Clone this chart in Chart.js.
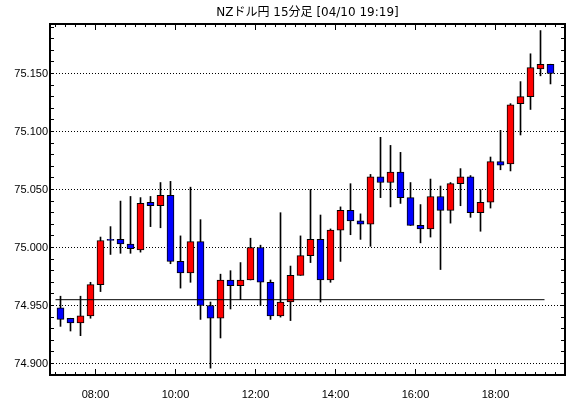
<!DOCTYPE html>
<html><head><meta charset="utf-8">
<script src="https://cdn.jsdelivr.net/npm/chart.js@4"></script>
<style>html,body{margin:0;padding:0;background:#fff}canvas{display:block}</style>
</head><body><canvas id="c" width="570" height="398"></canvas>
<script>
const chartTitle = 'NZドル円 15分足 [04/10 19:19]';
const times = ['07:00','07:15','07:30','07:45','08:00','08:15','08:30','08:45','09:00','09:15',
  '09:30','09:45','10:00','10:15','10:30','10:45','11:00','11:15','11:30','11:45',
  '12:00','12:15','12:30','12:45','13:00','13:15','13:30','13:45','14:00','14:15',
  '14:30','14:45','15:00','15:15','15:30','15:45','16:00','16:15','16:30','16:45',
  '17:00','17:15','17:30','17:45','18:00','18:15','18:30','18:45','19:00','19:15'];
const opens  = [74.948,74.939,74.935,74.941,74.968,75.007,75.007,75.003,74.998,75.039,
  75.036,75.045,74.988,74.978,75.005,74.950,74.939,74.972,74.967,74.972,
  75.000,74.970,74.941,74.953,74.976,74.993,75.007,74.972,75.015,75.032,
  75.023,75.020,75.061,75.056,75.065,75.043,75.019,75.016,75.044,75.032,
  75.055,75.061,75.030,75.039,75.074,75.072,75.124,75.130,75.154,75.158];
const highs  = [74.958,74.939,74.958,74.970,75.009,75.018,75.040,75.044,75.043,75.044,
  75.056,75.057,75.010,75.052,75.024,74.953,74.977,74.980,74.987,75.008,
  75.002,74.972,75.030,74.984,75.010,75.050,75.028,75.016,75.035,75.055,
  75.029,75.063,75.095,75.088,75.082,75.056,75.037,75.059,75.053,75.056,
  75.068,75.062,75.050,75.078,75.101,75.124,75.143,75.167,75.187,75.158];
const lows   = [74.932,74.928,74.924,74.939,74.962,74.994,74.995,74.995,74.996,75.018,
  75.017,74.986,74.965,74.970,74.938,74.896,74.922,74.947,74.955,74.972,
  74.950,74.938,74.940,74.937,74.976,74.987,74.953,74.970,74.988,75.011,
  75.007,75.001,75.043,75.035,75.038,75.019,75.004,75.009,74.981,75.021,
  75.036,75.026,75.014,75.034,75.067,75.066,75.097,75.119,75.148,75.141];
const closes = [74.938,74.935,74.941,74.968,75.006,75.006,75.003,74.999,75.038,75.036,
  75.045,74.988,74.978,75.005,74.950,74.939,74.972,74.967,74.972,75.000,
  74.970,74.941,74.953,74.976,74.993,75.007,74.972,75.015,75.032,75.023,
  75.020,75.061,75.056,75.065,75.043,75.019,75.016,75.044,75.032,75.055,
  75.061,75.030,75.039,75.074,75.071,75.123,75.130,75.155,75.158,75.150];
const refLevel = 74.955;
const refLineSpan = [-0.5, 48.4];
const xTickLabels = ['08:00','10:00','12:00','14:00','16:00','18:00'];
const yTickValues = [74.900, 74.950, 75.000, 75.050, 75.100, 75.150];
const yMinorStep = 0.01;

const UP = '#ff0000', DOWN = '#0000ff';
const wickData = times.map((t,i)=>({x:i, y:[lows[i], highs[i]]}));
const bodyData = times.map((t,i)=>({x:i, y:[opens[i], closes[i]]}));
const bodyColors = times.map((t,i)=> closes[i] >= opens[i] ? UP : DOWN);

const frameTicks = {
  id:'frameTicks',
  afterDraw(chart){
    const {ctx, chartArea:a, scales:{x, y}} = chart;
    ctx.save();
    ctx.strokeStyle = '#000';
    ctx.lineWidth = 1;
    ctx.beginPath();
    for (let i = 0; i <= times.length; i++) {
      const px = x.getPixelForValue(i - 0.5);
      const major = i < times.length && xTickLabels.includes(times[i]);
      const len = major ? 6 : 3;
      ctx.moveTo(px, a.bottom); ctx.lineTo(px, a.bottom - len);
      ctx.moveTo(px, a.top); ctx.lineTo(px, a.top + len);
    }
    const y0 = Math.ceil(y.min / yMinorStep + 1e-6);
    const y1 = Math.floor(y.max / yMinorStep);
    for (let k = y0; k <= y1; k++) {
      const py = Math.round(y.getPixelForValue(k * yMinorStep) - 0.5) + 0.5;
      ctx.moveTo(a.left, py); ctx.lineTo(a.left + 4, py);
      ctx.moveTo(a.right, py); ctx.lineTo(a.right - 4, py);
    }
    ctx.stroke();
    ctx.lineWidth = 2;
    ctx.strokeRect(a.left, a.top, a.right - a.left, a.bottom - a.top);
    ctx.restore();
  }
};

const font = {family:"'Liberation Sans', Arial, sans-serif", size:11};
new Chart(document.getElementById('c'), {
  type:'bar',
  data:{
    datasets:[
      {type:'line', data:refLineSpan.map(v=>({x:v, y:refLevel})), borderColor:'#000', borderWidth:1,
        pointRadius:0, fill:false, order:0},
      {data:bodyData, backgroundColor:bodyColors, borderColor:'#000', borderWidth:1,
        borderSkipped:false, barThickness:7, grouped:false, order:1},
      {data:wickData, backgroundColor:'#000', borderWidth:0, barThickness:1, grouped:false, order:2}
    ]
  },
  options:{
    responsive:false, animation:false, devicePixelRatio:1,
    layout:{padding:{left:0, right:5, top:0, bottom:0}},
    plugins:{
      legend:{display:false}, tooltip:{enabled:false},
      title:{display:true, text:chartTitle, fullSize:false, color:'#000',
        font:{family:"'DejaVu Sans', 'Noto Sans CJK JP', sans-serif", size:12, weight:'normal', lineHeight:1.2},
        padding:{top:5.5, bottom:4.1}}
    },
    scales:{
      x:{type:'linear', min:-1.05, max:50.45, offset:false,
        grid:{display:false}, border:{display:false},
        afterBuildTicks:s=>{ s.ticks = xTickLabels.map(l=>({value: times.indexOf(l) - 0.5})); },
        afterFit:s=>{ s.height = 23; },
        ticks:{autoSkip:false, maxRotation:0, padding:5, color:'#000', font,
          callback:(v,i)=>xTickLabels[i]}
      },
      y:{type:'linear', min:74.89008, max:75.19267,
        grid:{color:'#000', lineWidth:1, drawTicks:false},
        border:{display:false, dash:[1,2]},
        afterBuildTicks:s=>{ s.ticks = yTickValues.map(v=>({value:v})); },
        afterFit:s=>{ s.width = 50; },
        ticks:{padding:2, color:'#000', font, callback:v=>Number(v).toFixed(3)}
      }
    }
  },
  plugins:[frameTicks]
});
</script></body></html>
